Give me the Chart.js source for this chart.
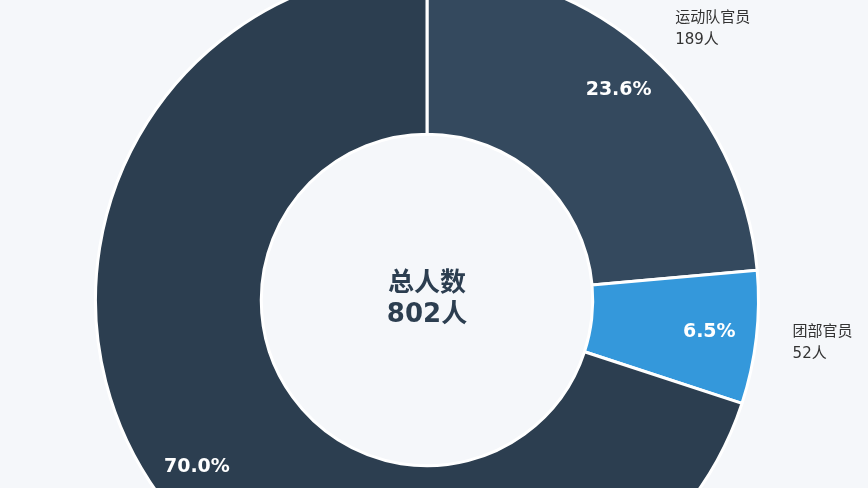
<!DOCTYPE html>
<html><head><meta charset="utf-8">
<script src="https://cdn.jsdelivr.net/npm/chart.js@4"></script>
<style>
html,body{margin:0;padding:0;width:868px;height:488px;overflow:hidden;background:#f5f7fa;}
#wrap{position:absolute;left:0;top:-33px;width:868px;height:666px;}
</style></head>
<body>
<div id="wrap"><canvas id="c"></canvas></div>
<script>
const categories = ['运动队官员', '团部官员', '其他人员'];
const counts = [189, 52, 561];
const percentLabels = ['23.6%', '6.5%', '70.0%'];
const colors = ['#34495e', '#3498db', '#2c3e50'];
const centerTitle = '总人数';
const totalLabel = '802人';

const FONT = '"DejaVu Sans", "Noto Sans CJK SC", sans-serif';

const labelPlugin = {
  id: 'labels',
  afterDatasetsDraw(chart) {
    const ctx = chart.ctx;
    const meta = chart.getDatasetMeta(0);
    ctx.save();
    meta.data.forEach((arc, i) => {
      const mid = (arc.startAngle + arc.endAngle) / 2;
      const R = arc.outerRadius;
      const pr = R * 0.857;
      ctx.fillStyle = '#ffffff';
      ctx.font = 'bold 19px ' + FONT;
      ctx.textAlign = 'center';
      ctx.textBaseline = 'middle';
      ctx.fillText(percentLabels[i], arc.x + Math.cos(mid) * pr, arc.y + Math.sin(mid) * pr);
      const lr = R * 1.11;
      const lx = arc.x + Math.cos(mid) * lr, ly = arc.y + Math.sin(mid) * lr;
      ctx.fillStyle = '#333333';
      ctx.font = '15px ' + FONT;
      ctx.textAlign = 'left';
      ctx.fillText(categories[i], lx, ly - 10);
      ctx.fillText(counts[i] + '人', lx, ly + 12);
    });
    const a = meta.data[0];
    ctx.fillStyle = '#2c3e50';
    ctx.font = 'bold 26px ' + FONT;
    ctx.textAlign = 'center';
    ctx.textBaseline = 'middle';
    ctx.fillText(centerTitle, a.x, a.y - 16);
    ctx.fillText(totalLabel, a.x, a.y + 15);
    ctx.restore();
  }
};

new Chart(document.getElementById('c'), {
  type: 'doughnut',
  data: {
    labels: categories,
    datasets: [{
      data: counts,
      backgroundColor: colors,
      borderColor: '#ffffff',
      borderWidth: 3
    }]
  },
  options: {
    responsive: true,
    maintainAspectRatio: false,
    animation: false,
    cutout: '50%',
    layout: { padding: { left: 94, right: 108, top: 0, bottom: 0 } },
    plugins: { legend: { display: false }, tooltip: { enabled: false } }
  },
  plugins: [labelPlugin]
});
</script>
</body></html>
